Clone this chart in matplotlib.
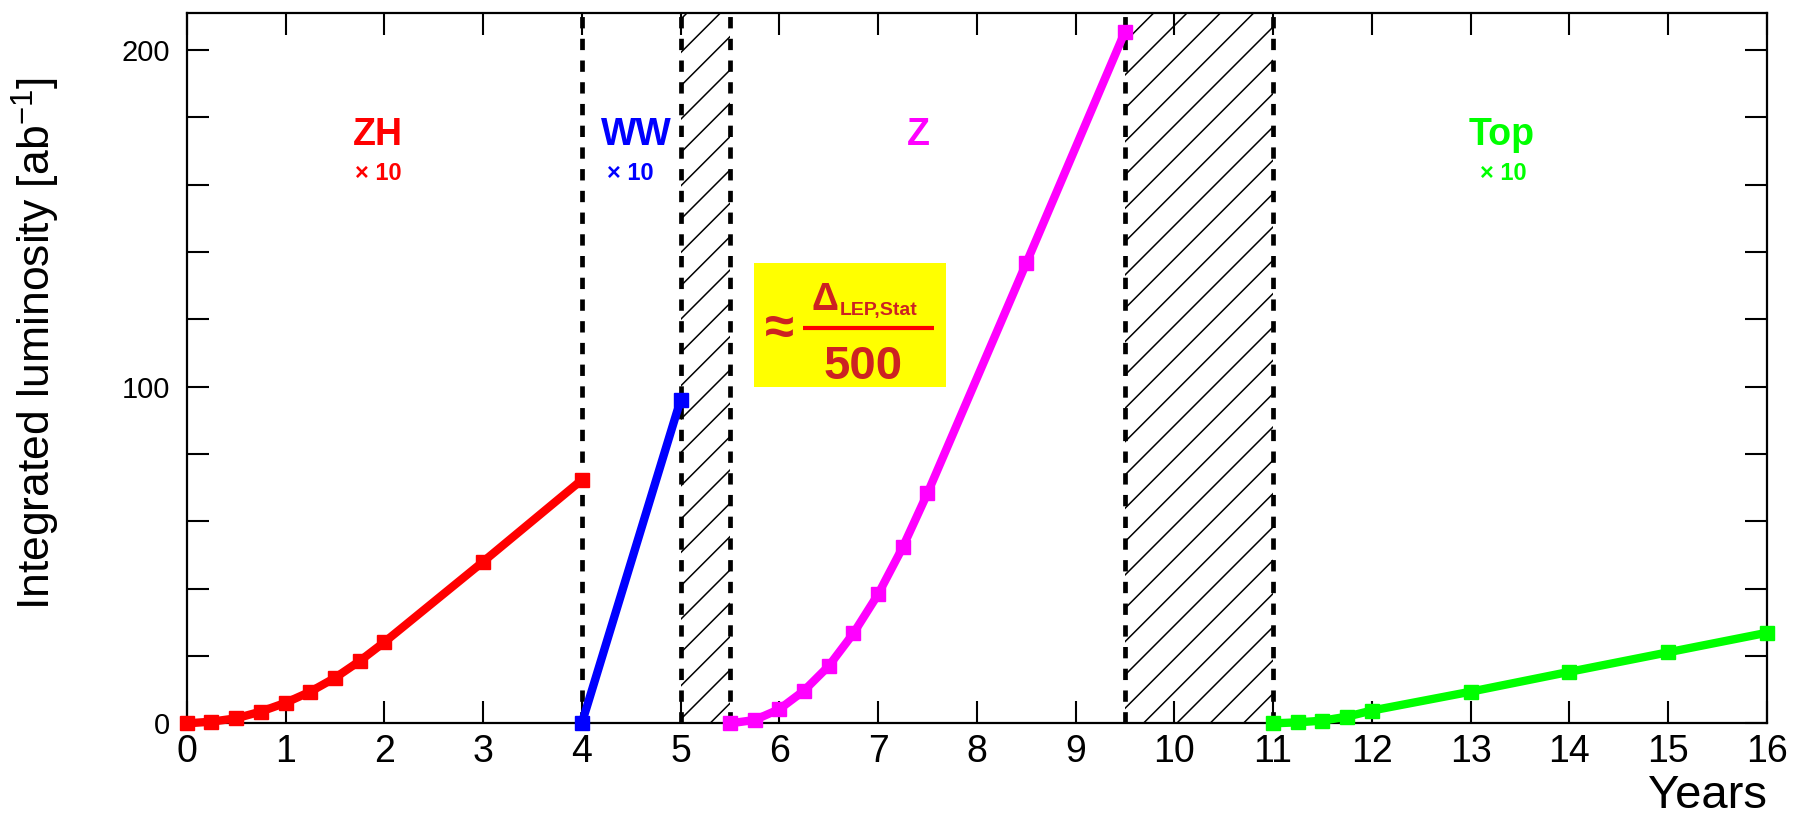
import matplotlib
matplotlib.use("Agg")
from matplotlib import pyplot as plt
from matplotlib.ticker import FixedLocator, FuncFormatter

# years / integrated luminosity
zh_x = [0, 0.25, 0.5, 0.75, 1.0, 1.25, 1.5, 1.75, 2, 3, 4]
zh_y = [0, 0.5, 1.5, 3.5, 6.1, 9.4, 13.5, 18.5, 24.1, 48.0, 72.3]
ww_x = [4, 5]
ww_y = [0, 96.0]
z_x = [5.5, 5.75, 6.0, 6.25, 6.5, 6.75, 7.0, 7.25, 7.5, 8.5, 9.5]
z_y = [0, 1.0, 4.2, 9.7, 17.0, 26.7, 38.3, 52.3, 68.3, 136.6, 205.4]
top_x = [11, 11.25, 11.5, 11.75, 12, 13, 14, 15, 16]
top_y = [0, 0.3, 0.8, 2.0, 3.8, 9.4, 15.3, 21.1, 26.9]

phase_edges = [4, 5, 5.5, 9.5, 11]
shutdowns = [(5, 5.5), (9.5, 11)]

x_ticks = list(range(0, 17))
y_ticks = list(range(0, 201, 20))

plt.rcParams['font.family'] = ['Liberation Sans', 'DejaVu Sans']
plt.rcParams['mathtext.fontset'] = 'custom'
plt.rcParams['mathtext.rm'] = 'Liberation Sans'
plt.rcParams['hatch.linewidth'] = 1.1
plt.rcParams['hatch.color'] = 'black'
plt.rcParams['axes.unicode_minus'] = False


def main():
	fig = plt.figure(figsize=(18.03, 8.18), dpi=100)
	ax = fig.add_axes([0.1036, 0.1157, 0.8763, 0.868])

	for lo, hi in shutdowns:
		ax.axvspan(lo, hi, facecolor='none', edgecolor='black', hatch='/', linewidth=0, zorder=1)
	for xe in phase_edges:
		ax.axvline(xe, color='black', lw=3.4, linestyle=(0, (2.4, 2.2)), zorder=2)

	series = [(zh_x, zh_y, '#ff0000'), (ww_x, ww_y, '#0000ff'),
			  (z_x, z_y, '#ff00ff'), (top_x, top_y, '#00ff00')]
	for xs, ys, col in series:
		ax.plot(xs, ys, color=col, lw=6, marker='s', markersize=10.5,
				clip_on=False, zorder=4)

	# phase names
	ax.text(1.94, 174.7, 'ZH', color='#ff0000', fontsize=27, fontweight='bold', ha='center', va='center')
	ax.text(1.94, 163.3, '× 10', color='#ff0000', fontsize=17, fontweight='bold', ha='center', va='center')
	ax.text(4.55, 174.7, 'WW', color='#0000ff', fontsize=27, fontweight='bold', ha='center', va='center')
	ax.text(4.49, 163.3, '× 10', color='#0000ff', fontsize=17, fontweight='bold', ha='center', va='center')
	ax.text(7.41, 174.7, 'Z', color='#ff00ff', fontsize=27, fontweight='bold', ha='center', va='center')
	ax.text(13.31, 174.7, 'Top', color='#00ff00', fontsize=27, fontweight='bold', ha='center', va='center')
	ax.text(13.33, 163.3, '× 10', color='#00ff00', fontsize=17, fontweight='bold', ha='center', va='center')

	# yellow box with the LEP statistics note
	box = plt.Rectangle((5.74, 100.0), 1.95, 36.6, facecolor='#ffff00', edgecolor='none', zorder=3)
	ax.add_patch(box)
	txt_col = '#cc2222'
	ax.text(6.33, 122.8, 'Δ', color=txt_col, fontsize=27, fontweight='bold', ha='left', va='baseline', zorder=5)
	ax.text(6.61, 121.3, 'LEP,Stat', color=txt_col, fontsize=14, fontweight='bold', ha='left', va='baseline', zorder=5)
	ax.text(6.0, 116.8, '≈', color=txt_col, fontsize=38, fontweight='bold', ha='center', va='center', zorder=5)
	ax.text(6.85, 105.8, '500', color=txt_col, fontsize=34, fontweight='bold', ha='center', va='center', zorder=5)
	ax.plot([6.241, 7.568], [117.3, 117.3], color='#ff0000', lw=3, solid_capstyle='butt', zorder=5)

	ax.set_xlim(0, 16)
	ax.set_ylim(0, 210.9)
	ax.xaxis.set_major_locator(FixedLocator(x_ticks))
	ax.yaxis.set_major_locator(FixedLocator(y_ticks))
	ax.yaxis.set_major_formatter(FuncFormatter(lambda v, p: '%d' % v if v % 100 == 0 else ''))
	ax.tick_params(direction='in', length=16, width=1.5, top=True, right=True)
	ax.tick_params(axis='x', labelsize=27, pad=8)
	ax.tick_params(axis='y', labelsize=21, pad=12)
	for sp in ax.spines.values():
		sp.set_linewidth(1.6)

	ax.set_xlabel('Years', fontsize=34, ha='right')
	ax.xaxis.set_label_coords(1.0, -0.072)
	ax.set_ylabel('Integrated luminosity [ab$^{\\mathregular{-1}}$]', fontsize=32)
	ax.yaxis.set_label_coords(-0.079, 0.535)

	fig.savefig('out.png', dpi=100)


if __name__ == "__main__":
	main()
